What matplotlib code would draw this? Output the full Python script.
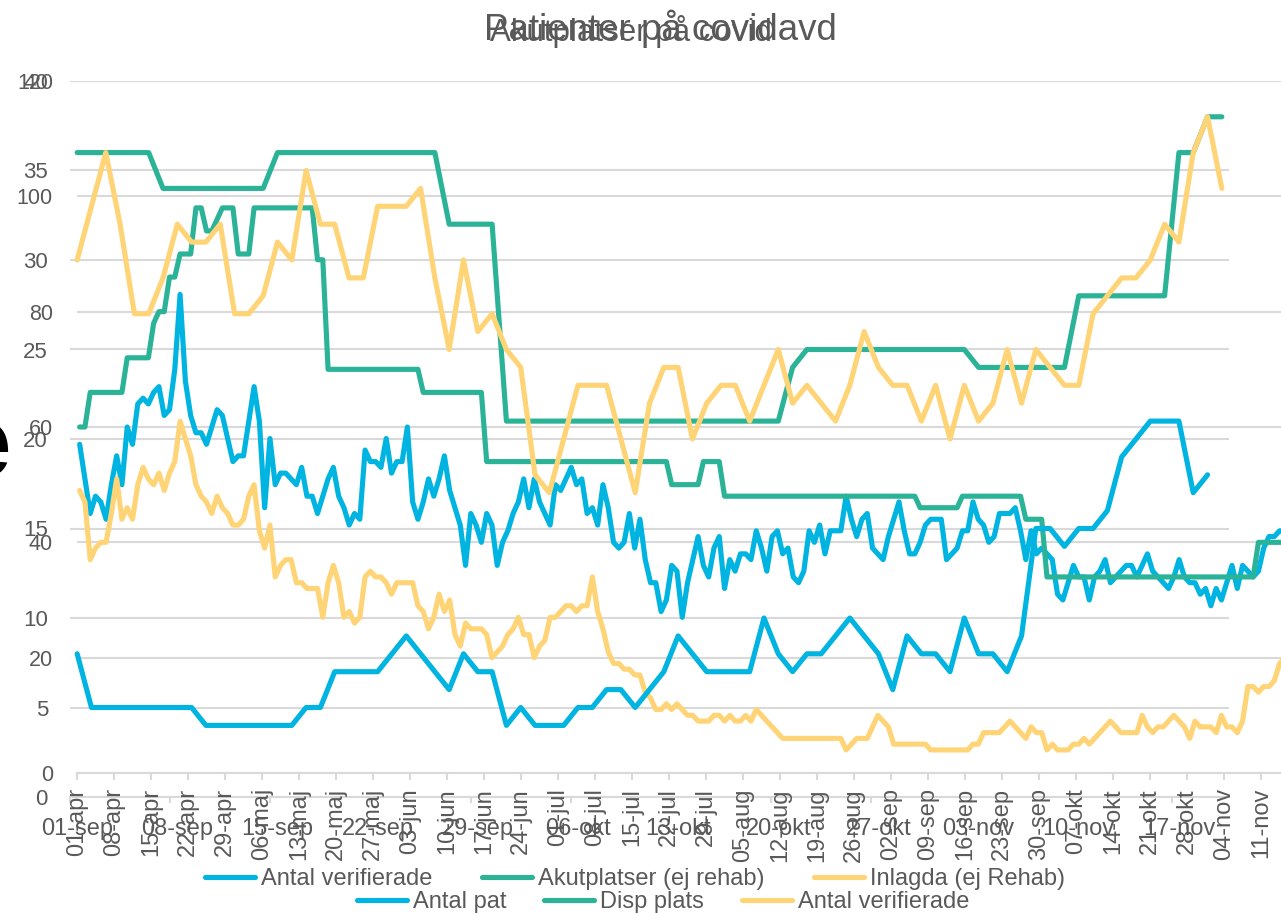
import matplotlib
matplotlib.use('Agg')
import matplotlib.pyplot as plt
from matplotlib.lines import Line2D
import numpy as np

plt.rcParams['font.family'] = ['Liberation Sans', 'DejaVu Sans']

# ---------------- Chart A: "Akutplatser på covid" (daily, from 01-apr) ----------------
a_tick_labels = ['01-apr', '08-apr', '15-apr', '22-apr', '29-apr', '06-maj', '13-maj', '20-maj',
                 '27-maj', '03-jun', '10-jun', '17-jun', '24-jun', '01-jul', '08-jul', '15-jul',
                 '22-jul', '29-jul', '05-aug', '12-aug', '19-aug', '26-aug', '02-sep', '09-sep',
                 '16-sep', '23-sep', '30-sep', '07-okt', '14-okt', '21-okt', '28-okt', '04-nov',
                 '11-nov']

a_antal_verifierade = [
    57, 51, 45, 48, 47, 44, 50, 55, 50, 60, 57, 64, 65, 64, 66, 67, 62, 63, 70, 83,
    68, 62, 59, 59, 57, 60, 63, 62, 58, 54, 55, 55, 61, 67, 61, 46, 58, 50, 52, 52,
    51, 50, 53, 48, 48, 45, 48, 51, 53, 48, 46, 43, 45, 44, 56, 54, 54, 53, 58, 52,
    54, 54, 60, 47, 44, 47, 51, 48, 51, 55, 49, 46, 43, 36, 45, 43, 40, 45, 43, 36,
    40, 42, 45, 47, 51, 46, 51, 47, 45, 43, 50, 49, 51, 53, 50, 51, 45, 46, 43, 50,
    46, 40, 39, 40, 45, 39, 44, 37, 33, 33, 28, 30, 36, 35, 27, 33, 37, 41, 36, 34,
    39, 41, 32, 37, 35, 38, 38, 37, 42, 39, 35, 41, 42, 38, 39, 34, 33, 35, 42, 40,
    43, 38, 42, 42, 42, 48, 44, 41, 44, 45, 39, 38, 37, 41, 44, 47, 42, 38, 38, 40,
    43, 44, 44, 44, 37, 38, 39, 42, 42, 47, 44, 43, 40, 41, 45, 45, 45, 46, 42, 37,
    42, 38, 39, 38, 37, 31, 30, 33, 36, 34, 34, 30, 34, 35, 37, 33, 34, 35, 36, 36,
    34, 36, 38, 35, 34, 33, 32, 34, 37, 34, 33, 33, 31, 32, 29, 32, 30, 33, 36, 32,
    36, 35, 34, 35, 39, 41, 41, 42, 42]

a_akutplatser = ([60] * 2 + [66] * 7 + [72] * 5 + [78] + [80] * 2 + [86] * 2 + [90] * 3 +
                 [98] * 2 + [94] * 2 + [96] + [98] * 3 + [90] * 3 + [98] * 12 + [89] * 2 +
                 [70] * 18 + [66] * 12 + [54] * 35 + [50] * 6 + [54] * 4 + [48] * 37 +
                 [46] * 8 + [48] * 12 + [44] * 4 + [34] * 40 + [40] * 6)

a_inlagda = [
    49, 47, 37, 39, 40, 40, 45, 51, 44, 46, 44, 50, 53, 51, 50, 52, 49, 52, 54, 61,
    58, 55, 50, 48, 47, 45, 48, 46, 45, 43, 43, 44, 48, 50, 42, 39, 43, 34, 36, 37,
    37, 33, 33, 32, 32, 32, 27, 33, 36, 33, 27, 28, 26, 27, 34, 35, 34, 34, 33, 31,
    33, 33, 33, 33, 29, 28, 25, 27, 31, 28, 30, 24, 22, 26, 25, 25, 25, 24, 20, 21,
    22, 24, 25, 27, 24, 24, 20, 22, 23, 27, 27, 28, 29, 29, 28, 29, 29, 34, 28, 25,
    21, 19, 19, 18, 18, 17, 17, 14, 13, 11, 11, 12, 11, 12, 11, 10, 10, 9, 9, 9,
    10, 10, 9, 10, 9, 9, 10, 9, 11, 10, 9, 8, 7, 6, 6, 6, 6, 6, 6, 6,
    6, 6, 6, 6, 6, 4, 5, 6, 6, 6, 8, 10, 9, 8, 5, 5, 5, 5, 5, 5,
    5, 4, 4, 4, 4, 4, 4, 4, 4, 5, 5, 7, 7, 7, 7, 8, 9, 8, 7, 6,
    8, 7, 7, 4, 5, 4, 4, 4, 5, 5, 6, 5, 6, 7, 8, 9, 8, 7, 7, 7,
    7, 10, 8, 7, 8, 8, 9, 10, 9, 8, 6, 9, 8, 8, 8, 7, 10, 8, 8, 7,
    9, 15, 15, 14, 15, 15, 16, 19, 20]

# ---------------- Chart B: "Patienter på covidavd" (daily categories, from 01-sep) ----------------
b_tick_labels = ['01-sep', '08-sep', '15-sep', '22-sep', '29-sep', '06-okt', '13-okt',
                 '20-okt', '27-okt', '03-nov', '10-nov', '17-nov']

b_antal_pat = ([8] + [5] * 8 + [4] * 7 + [5, 5] + [7] * 4 +
               [8, 9, 8, 7, 6, 8, 7, 7, 4, 5, 4, 4, 4, 5, 5, 6, 6, 5, 6, 7,
                9, 8, 7, 7, 7, 7, 10, 8, 7, 8, 8, 9, 10, 9, 8, 6, 9, 8, 8, 7,
                10, 8, 8, 7, 9, 15, 15, 14, 15, 15, 16, 19, 20, 21, 21, 21, 17, 18])

b_disp_plats = ([36] * 6 + [34] * 8 + [36] * 12 + [32] * 4 + [21] * 20 + [24] +
                [25] * 12 + [24] * 7 + [28] * 7 + [36] * 2 + [38] * 2)

b_antal_verifierade = [
    30, 33, 36, 32, 27, 27, 29, 32, 31, 31, 32, 27, 27, 28, 31, 30, 35, 32, 32, 29,
    29, 33, 33, 33, 34, 29, 25, 30, 26, 27, 25, 24, 18, 17, 20, 23, 23, 23, 20, 17,
    22, 24, 24, 20, 22, 23, 23, 21, 23, 25, 22, 23, 22, 21, 23, 26, 24, 23, 23, 21,
    23, 20, 23, 21, 22, 25, 22, 25, 24, 23, 23, 27, 28, 29, 29, 30, 32, 31, 36, 38,
    34]

# ---------------- styling ----------------
BLUE = '#00B4E1'
GREEN = '#2BB398'
YELLOW = '#FFD476'
GRID = '#D9D9D9'
TXT = '#595959'
LW = 3.7

W, H = 1281, 913
fig = plt.figure(figsize=(W / 100, H / 100), dpi=100)


def fx(px):
    return px / W


def fy(py):
    return 1 - py / H


def rect(x0, y0, x1, y1):
    return [fx(x0), fy(y1), fx(x1) - fx(x0), fy(y0) - fy(y1)]


def px2pt(p):
    return p * 72 / 100


# B background axes: grid, ticks, labels
axBg = fig.add_axes(rect(70, 81, 1229, 797))
# A axes: grid, ticks, labels, lines
axA = fig.add_axes(rect(77, 81, 1281, 773))
# B lines axes on top
axB = fig.add_axes(rect(70, 81, 1229, 797))

for ax in (axBg, axA, axB):
    ax.patch.set_alpha(0)
    for s in ('top', 'right', 'left'):
        ax.spines[s].set_visible(False)

# ---- B background
nb = len(b_disp_plats)
axBg.set_xlim(-0.5, nb - 0.5)
axBg.set_ylim(0, 40)
axBg.set_yticks(range(0, 41, 5))
axBg.grid(axis='y', color=GRID, lw=1.5)
axBg.set_axisbelow(True)
axBg.spines['bottom'].set_color(GRID)
axBg.spines['bottom'].set_linewidth(1.5)
b_major = np.arange(0, nb - 2, 7)
axBg.set_xticks(b_major)
axBg.set_xticklabels(b_tick_labels)
axBg.set_xticks(np.arange(-0.5, nb, 7), minor=True)
axBg.tick_params(axis='x', which='major', length=0, pad=px2pt(21), labelsize=17, labelcolor=TXT)
axBg.tick_params(axis='x', which='minor', length=px2pt(6), width=1.5, color=GRID)
axBg.tick_params(axis='y', length=0, pad=px2pt(22), labelsize=16, labelcolor=TXT)

# ---- A
na = len(a_inlagda)
xa = np.arange(na)
a_right = -0.5 + (1281 - 77) / 5.286
axA.set_xlim(-0.5, a_right)
axA.set_ylim(0, 120)
axA.set_yticks(range(0, 121, 20))
axA.grid(axis='y', color=GRID, lw=1.5)
axA.set_axisbelow(True)
axA.spines['bottom'].set_color(GRID)
axA.spines['bottom'].set_linewidth(1.5)
a_ticks = np.arange(0, 7 * len(a_tick_labels), 7) - 0.5
axA.set_xticks(a_ticks)
axA.set_xticklabels(a_tick_labels, rotation=90)
axA.tick_params(axis='x', length=px2pt(7), width=1.5, color=GRID, pad=px2pt(8),
                labelsize=17, labelcolor=TXT)
axA.tick_params(axis='y', length=0, pad=px2pt(24), labelsize=15.5, labelcolor=TXT)

kw = dict(lw=LW, solid_capstyle='round', solid_joinstyle='round')
axA.plot(xa, a_antal_verifierade, color=BLUE, **kw)
axA.plot(xa, a_akutplatser, color=GREEN, **kw)
axA.plot(xa, a_inlagda, color=YELLOW, **kw)

# ---- B lines
axB.set_xlim(-0.5, nb - 0.5)
axB.set_ylim(0, 40)
axB.set_xticks([])
axB.set_yticks([])
axB.spines['bottom'].set_visible(False)
axB.plot(np.arange(len(b_antal_pat)), b_antal_pat, color=BLUE, **kw)
axB.plot(np.arange(nb), b_disp_plats, color=GREEN, **kw)
axB.plot(np.arange(len(b_antal_verifierade)), b_antal_verifierade, color=YELLOW, **kw)

# ---- titles (two overlaid charts)
fig.text(fx(660), fy(40), 'Patienter på covidavd', ha='center', va='baseline',
         fontsize=26.5, color=TXT)
fig.text(fx(631), fy(41), 'Akutplatser på covid', ha='center', va='baseline',
         fontsize=22.5, color=TXT)

# ---- legends
def handle(c):
    return Line2D([], [], color=c, lw=LW, solid_capstyle='round')


legA = fig.legend([handle(BLUE), handle(GREEN), handle(YELLOW)],
                  ['Antal verifierade', 'Akutplatser (ej rehab)', 'Inlagda (ej Rehab)'],
                  loc='center left', bbox_to_anchor=(fx(205), fy(879)), ncol=3,
                  frameon=False, fontsize=17, handlelength=2.12, handletextpad=0.25,
                  columnspacing=2.1, borderpad=0, borderaxespad=0, labelcolor=TXT)
legB = fig.legend([handle(BLUE), handle(GREEN), handle(YELLOW)],
                  ['Antal pat', 'Disp plats', 'Antal verifierade'],
                  loc='center left', bbox_to_anchor=(fx(357), fy(902)), ncol=3,
                  frameon=False, fontsize=17, handlelength=2.12, handletextpad=0.25,
                  columnspacing=1.6, borderpad=0, borderaxespad=0, labelcolor=TXT)

# ---- cut-off bold text at left edge
fig.text(fx(11), fy(450), 'e', ha='right', va='center', fontsize=72,
         fontweight='bold', color='black')

fig.savefig('out.png', dpi=100)
